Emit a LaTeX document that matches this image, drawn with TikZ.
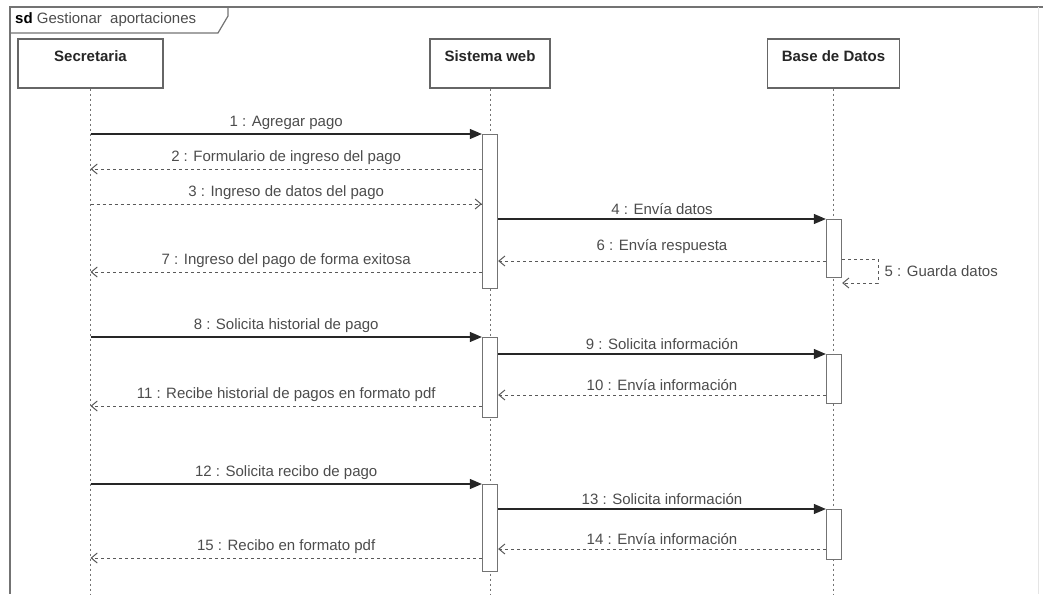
\documentclass[tikz,border=0pt]{standalone}
\usepackage{fontspec}
\setmainfont{Liberation Sans}
\usetikzlibrary{arrows.meta,calc}

\tikzset{
  kopf/.style={draw=black!60,line width=1.2pt,fill=white,minimum height=49pt,inner sep=0pt,
    text height=11pt,text depth=15pt,font=\fontsize{15}{18}\selectfont\bfseries,text=black!85},
  leben/.style={draw=black!55,line width=1pt,dash pattern=on 2pt off 3pt},
  akt/.style={draw=black!55,line width=1.3pt,fill=white,minimum width=15pt,inner sep=0pt,anchor=north},
  ruf/.style={draw=black!85,line width=1.1pt,-{Triangle[length=12pt,width=10pt]}},
  antwort/.style={draw=black!65,line width=1pt,dash pattern=on 3pt off 3pt,
    -{Straight Barb[length=6pt,width=10pt]}},
  txt/.style={font=\fontsize{15}{18}\selectfont,text=black!70,inner sep=2pt,yshift=2pt}
}

\begin{document}
\begin{tikzpicture}[x=1pt,y=-1pt]
\useasboundingbox (0,0) rectangle (1043,594);

%RAHMEN
\draw [black!55,line width=1.5pt] (1043,7) -- (10,7) -- (10,594);
\draw [black!10,line width=0.8pt] (1038,7) -- (1038,594);
\draw [black!55,line width=1.2pt] (10,33) -- (218,33) -- (228,16) -- (228,7);
\node [txt,anchor=west,yshift=-2pt] (titel) at ($(13,20)$) {{\color{black}\textbf{sd}} Gestionar\ \ aportaciones};




%KOEPFE (von links)
\node [kopf,minimum width=145pt] (sec) at ($(90.5,63.5)$) {Secretaria};
\node [kopf,minimum width=120pt] (web) at ($(490,63.5)$) {Sistema web};
\node [kopf,minimum width=132pt] (db) at ($(833.5,63.5)$) {Base de Datos};
\coordinate (unten) at (0,594);

%LEBENSLINIEN
\draw [leben] (sec.south) -- (sec.south |- unten);
\draw [leben] (web.south) -- (web.south |- unten);
\draw [leben] (db.south) -- (db.south |- unten);




%AKTIVIERUNGEN (von oben)
\node [akt,minimum height=154pt] (web1) at ($(490,134)$) {};
\node [akt,minimum height=58pt] (db1) at ($(834,219)$) {};
\node [akt,minimum height=80pt] (web2) at ($(490,337)$) {};
\node [akt,minimum height=49pt] (db2) at ($(834,354)$) {};
\node [akt,minimum height=87pt] (web3) at ($(490,484)$) {};
\node [akt,minimum height=50pt] (db3) at ($(834,509)$) {};




%BLOCK NR. 1 (von oben)

%NACHRICHT NR. 1
\draw [ruf] (sec |- web1.north) -- (web1.north west)
  node [txt,midway,above] (t1) {1 : Agregar pago};

%NACHRICHT NR. 2
\coordinate (n2) at (0,169);
\draw [antwort] (web1.west |- n2) -- (sec |- n2)
  node [txt,midway,above] (t2) {2 : Formulario de ingreso del pago};

%NACHRICHT NR. 3
\coordinate (n3) at (0,204);
\draw [antwort] (sec |- n3) -- (web1.west |- n3)
  node [txt,midway,above] (t3) {3 : Ingreso de datos del pago};

%NACHRICHT NR. 4
\draw [ruf] (web1.east |- db1.north) -- (db1.north west)
  node [txt,midway,above] (t4) {4 : Envía datos};

%NACHRICHT NR. 5
\coordinate (n5) at (0,259);
\coordinate (n5b) at (0,283);
\draw [antwort] (db1.east |- n5) -- ++(36,0) |- (db1.east |- n5b)
  node [txt,pos=0.25,right,xshift=4pt,yshift=-2pt] (t5) {5 : Guarda datos};

%NACHRICHT NR. 6
\coordinate (n6) at (0,261);
\draw [antwort] (db1.west |- n6) -- (web1.east |- n6)
  node [txt,midway,above,yshift=3pt] (t6) {6 : Envía respuesta};

%NACHRICHT NR. 7
\coordinate (n7) at (0,272);
\draw [antwort] (web1.west |- n7) -- (sec |- n7)
  node [txt,midway,above] (t7) {7 : Ingreso del pago de forma exitosa};




%BLOCK NR. 2 (von oben)

%NACHRICHT NR. 8
\draw [ruf] (sec |- web2.north) -- (web2.north west)
  node [txt,midway,above] (t8) {8 : Solicita historial de pago};

%NACHRICHT NR. 9
\draw [ruf] (web2.east |- db2.north) -- (db2.north west)
  node [txt,midway,above] (t9) {9 : Solicita información};

%NACHRICHT NR. 10
\coordinate (n10) at (0,395);
\draw [antwort] (db2.west |- n10) -- (web2.east |- n10)
  node [txt,midway,above] (t10) {10 : Envía información};

%NACHRICHT NR. 11
\coordinate (n11) at (0,406);
\draw [antwort] (web2.west |- n11) -- (sec |- n11)
  node [txt,midway,above] (t11) {11 : Recibe historial de pagos en formato pdf};




%BLOCK NR. 3 (von oben)

%NACHRICHT NR. 12
\draw [ruf] (sec |- web3.north) -- (web3.north west)
  node [txt,midway,above] (t12) {12 : Solicita recibo de pago};

%NACHRICHT NR. 13
\draw [ruf] (web3.east |- db3.north) -- (db3.north west)
  node [txt,midway,above] (t13) {13 : Solicita información};

%NACHRICHT NR. 14
\coordinate (n14) at (0,549);
\draw [antwort] (db3.west |- n14) -- (web3.east |- n14)
  node [txt,midway,above] (t14) {14 : Envía información};

%NACHRICHT NR. 15
\coordinate (n15) at (0,558);
\draw [antwort] (web3.west |- n15) -- (sec |- n15)
  node [txt,midway,above] (t15) {15 : Recibo en formato pdf};

\end{tikzpicture}
\end{document}
